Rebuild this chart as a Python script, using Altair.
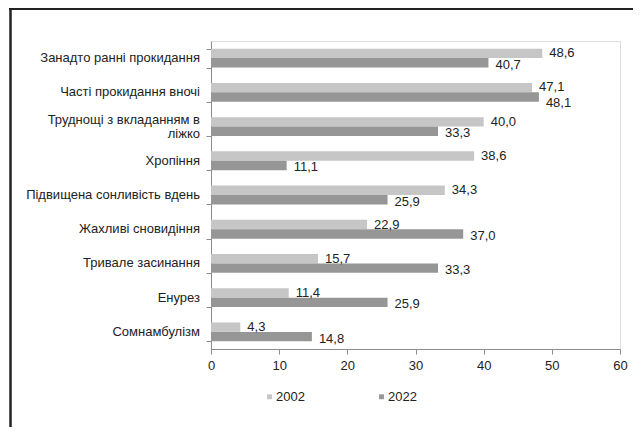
import altair as alt
import pandas as pd

categories = [
    "Занадто ранні прокидання",
    "Часті прокидання вночі",
    "Труднощі з вкладанням в|ліжко",
    "Хропіння",
    "Підвищена сонливість вдень",
    "Жахливі сновидіння",
    "Тривале засинання",
    "Енурез",
    "Сомнамбулізм",
]
values_2002 = [48.6, 47.1, 40.0, 38.6, 34.3, 22.9, 15.7, 11.4, 4.3]
values_2022 = [40.7, 48.1, 33.3, 11.1, 25.9, 37.0, 33.3, 25.9, 14.8]
years = ["2002", "2022"]
x_ticks = [0, 10, 20, 30, 40, 50, 60]
colors = ["#c6c6c6", "#969696"]

rows = []
for c, a, b in zip(categories, values_2002, values_2022):
    grp = "near" if abs(a - b) < 3 else "far"
    rows.append({"cat": c, "year": years[0], "v": a, "grp": grp})
    rows.append({"cat": c, "year": years[1], "v": b, "grp": grp})
df = pd.DataFrame(rows)

cat_df = pd.DataFrame({
    "cat": categories,
    "lines": ["multi" if "|" in c else "single" for c in categories],
})

FONT = "Liberation Sans"

y_enc = alt.Y(
    "cat:N",
    sort=categories,
    scale=alt.Scale(paddingInner=0.45, paddingOuter=0.225),
    axis=alt.Axis(
        title=None,
        tickBand="extent",
        labels=False,
        domainColor="#8c8c8c",
        tickColor="#8c8c8c",
        tickSize=5,
    ),
)
yoff_enc = alt.YOffset("year:N", sort=years, scale=alt.Scale(paddingInner=0, paddingOuter=0))
x_enc = alt.X(
    "v:Q",
    scale=alt.Scale(domain=[0, 60], nice=False),
    axis=alt.Axis(
        values=x_ticks,
        title=None,
        grid=False,
        domainColor="#8c8c8c",
        tickColor="#8c8c8c",
        tickSize=5,
        labelPadding=5,
        labelFontSize=13,
        labelFont=FONT,
        labelColor="#222222",
        labelFlush=False,
    ),
)

base = alt.Chart(df).transform_calculate(
    label="replace(format(datum.v, '.1f'), '.', ',')"
)

bars = base.mark_bar().encode(
    x=x_enc,
    y=y_enc,
    yOffset=yoff_enc,
    color=alt.Color(
        "year:N",
        scale=alt.Scale(domain=years, range=colors),
        legend=alt.Legend(
            title=None,
            orient="none",
            direction="horizontal",
            legendX=52,
            legendY=349,
            padding=0,
            symbolType="square",
            symbolSize=24,
            symbolStrokeWidth=0,
            labelOffset=0,
            columnPadding=70,
            labelFontSize=13,
            labelFont=FONT,
            labelColor="#222222",
        ),
    ),
)

def label_layer(year, dy, grp):
    return base.transform_filter(
        (alt.datum.year == year) & (alt.datum.grp == grp)
    ).mark_text(
        align="left", baseline="middle", dx=7, dy=dy, fontSize=13, font=FONT, color="#222222"
    ).encode(
        x="v:Q",
        y=alt.Y("cat:N", sort=categories),
        yOffset=alt.YOffset("year:N", sort=years),
        text="label:N",
    )

t2002 = label_layer(years[0], 0, "far")
t2002n = label_layer(years[0], -1, "near")
t2022 = label_layer(years[1], 2, "far")
t2022n = label_layer(years[1], 6, "near")

def cat_layer(kind, dy):
    return alt.Chart(cat_df).transform_filter(alt.datum.lines == kind).mark_text(
        align="right", baseline="middle", dy=dy, lineBreak="|", lineHeight=14,
        fontSize=13, font=FONT, color="#222222"
    ).encode(
        x=alt.value(-11),
        y=alt.Y("cat:N", sort=categories),
        text="cat:N",
    )

cat_single = cat_layer("single", 0)
cat_multi = cat_layer("multi", -7)

frame = pd.DataFrame({"a": [0]})
border_left = alt.Chart(frame).mark_rule(color="#222222", strokeWidth=2.5).encode(
    x=alt.value(-200.5), y=alt.value(-40), y2=alt.value(400)
)
border_top = alt.Chart(frame).mark_rule(color="#222222", strokeWidth=2).encode(
    x=alt.value(-202), x2=alt.value(440), y=alt.value(-32)
)

chart = (
    alt.layer(bars, t2002, t2002n, t2022, t2022n, cat_single, cat_multi, border_left, border_top)
    .properties(
        width=409,
        height=308,
        autosize=alt.AutoSizeParams(type="none"),
        padding={"left": 203, "top": 33, "right": 13, "bottom": 78},
    )
    .configure_view(strokeWidth=0)
    .configure(background="white")
)

chart.save("out.html", embed_options={"renderer": "svg", "actions": False})
